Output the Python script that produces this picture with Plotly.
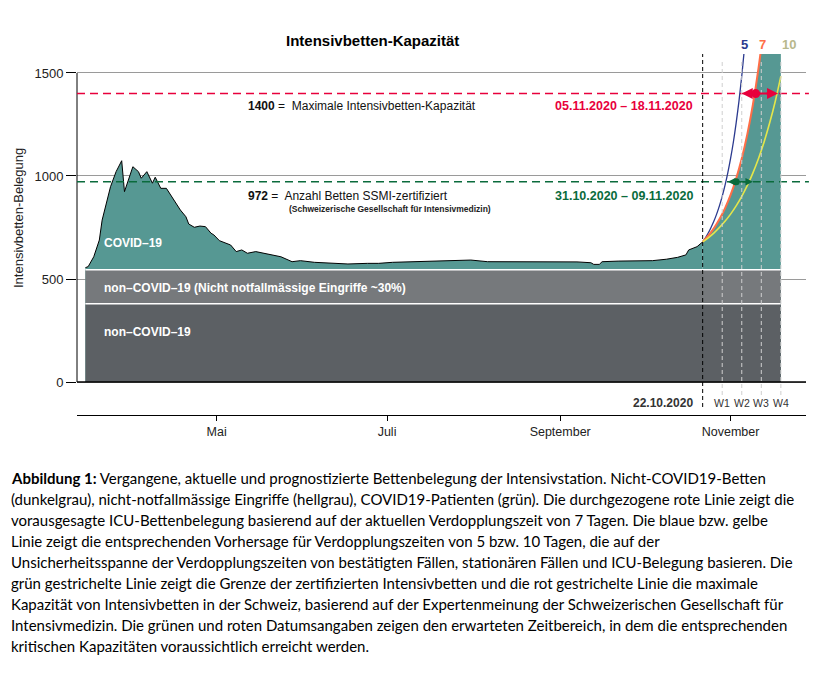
import plotly.graph_objects as go

# ---------------- data ----------------
non_covid = 380          # non-COVID-19 beds
elective = 165           # non-urgent interventions (~30%)
bars_start, bars_end = "2020-03-15", "2020-11-19"

covid_dates = [
    "2020-03-15", "2020-03-16", "2020-03-18", "2020-03-20", "2020-03-21", "2020-03-24",
    "2020-03-26", "2020-03-28", "2020-03-29", "2020-04-01", "2020-04-03", "2020-04-04",
    "2020-04-06", "2020-04-08", "2020-04-09", "2020-04-11", "2020-04-13", "2020-04-15",
    "2020-04-18", "2020-04-20", "2020-04-21", "2020-04-23", "2020-04-25", "2020-04-27",
    "2020-04-29", "2020-04-30", "2020-05-02", "2020-05-06", "2020-05-08", "2020-05-10",
    "2020-05-12", "2020-05-15", "2020-05-19", "2020-05-24", "2020-05-28", "2020-05-31",
    "2020-06-05", "2020-06-11", "2020-06-17", "2020-06-24", "2020-06-28", "2020-07-03",
    "2020-07-09", "2020-07-15", "2020-07-20", "2020-07-25", "2020-07-31", "2020-08-06",
    "2020-08-10", "2020-08-16", "2020-08-22", "2020-08-27", "2020-09-01", "2020-09-07",
    "2020-09-12", "2020-09-13", "2020-09-15", "2020-09-16", "2020-09-22", "2020-09-28",
    "2020-10-04", "2020-10-09", "2020-10-13", "2020-10-16", "2020-10-17", "2020-10-20",
    "2020-10-22",
]
covid_patients = [
    10, 15, 63, 144, 241, 403,
    476, 529, 379, 500, 476, 444,
    476, 420, 449, 395, 395, 355,
    290, 257, 222, 206, 212, 209,
    177, 169, 141, 120, 88, 96,
    80, 88, 76, 63, 39, 44,
    36, 31, 28, 31, 31, 36,
    39, 39, 44, 44, 47, 39,
    39, 39, 38, 39, 38, 38,
    34, 26, 26, 39, 42, 42,
    44, 51, 60, 72, 96, 112,
    135,
]

# projections of total ICU occupancy (doubling times 5 / 7 / 10 days)
blue_dates = ["2020-10-22", "2020-10-23", "2020-10-24", "2020-10-25", "2020-10-26", "2020-10-27",
              "2020-10-28", "2020-10-29", "2020-10-30", "2020-10-31", "2020-11-01", "2020-11-02",
              "2020-11-03", "2020-11-04", "2020-11-05", "2020-11-06", "2020-11-07"]
blue_total = [680, 700, 723, 750, 780, 815, 855, 901, 954, 1015, 1085, 1165, 1258, 1363, 1485, 1625, 1786]

red_dates = ["2020-10-22", "2020-10-24", "2020-10-26", "2020-10-28", "2020-10-30", "2020-11-01",
             "2020-11-03", "2020-11-05", "2020-11-07", "2020-11-09", "2020-11-11", "2020-11-13"]
red_total = [680, 710, 746, 790, 843, 908, 988, 1085, 1203, 1347, 1523, 1737]

yellow_dates = ["2020-10-22", "2020-10-24", "2020-10-26", "2020-10-28", "2020-10-30", "2020-11-01",
                "2020-11-03", "2020-11-05", "2020-11-07", "2020-11-09", "2020-11-11", "2020-11-13",
                "2020-11-15", "2020-11-17", "2020-11-19"]
yellow_total = [680, 700, 723, 750, 780, 815, 855, 901, 954, 1015, 1085, 1165, 1258, 1363, 1485]

max_capacity = 1400
certified = 972
red_range = ["2020-11-05", "2020-11-18"]
red_mid = "2020-11-10"
green_range = ["2020-10-31", "2020-11-09"]
green_mid = "2020-11-03"

today = "2020-10-22"
week_dates = ["2020-10-29", "2020-11-05", "2020-11-12", "2020-11-19"]
week_labels = ["W1", "W2", "W3", "W4"]

month_ticks = ["2020-05-01", "2020-07-01", "2020-09-01", "2020-11-01"]
month_labels = ["Mai", "Juli", "September", "November"]
y_ticks = [0, 500, 1000, 1500]

# ---------------- styling ----------------
TEAL = "#569893"
DARK = "#5c6064"
LIGHT = "#76797c"
RED = "#e8003c"
GREEN = "#0a6b3c"
BLUE_L = "#2b3a8f"
ORANGE_L = "#ff6e47"
YELLOW_L = "#e4e64a"
FONT = "Liberation Sans, Arial, sans-serif"

# page body adds an 8px offset; work in reference pixel coordinates
OFF = 8
W, H = 829 - OFF, 675 - OFF
PL, PT, PW, PH = 77 - OFF, 54 - OFF, 729, 361


def px(x):
    return (x - OFF - PL) / PW


def py(y):
    return (PT + PH - (y - OFF)) / PH


base = non_covid + elective
covid_total = [base + c for c in covid_patients]

fig = go.Figure()

# historical COVID area
fig.add_trace(go.Scatter(x=covid_dates, y=covid_total, mode="lines", fill="tozeroy",
                         fillcolor=TEAL, line=dict(color="black", width=1), hoverinfo="skip"))
# projected (7-day doubling) area
fig.add_trace(go.Scatter(x=red_dates + [bars_end], y=red_total + [red_total[-1]], mode="lines",
                         fill="tozeroy", fillcolor=TEAL, line=dict(width=0), hoverinfo="skip"))
# grey blocks
fig.add_trace(go.Scatter(x=[bars_start, bars_end], y=[non_covid, non_covid], mode="lines",
                         fill="tozeroy", fillcolor=DARK, line=dict(color="white", width=1.5),
                         hoverinfo="skip"))
fig.add_trace(go.Scatter(x=[bars_start, bars_end], y=[base, base], mode="lines",
                         fill="tonexty", fillcolor=LIGHT, line=dict(color="white", width=1.5),
                         hoverinfo="skip"))
# projection lines
fig.add_trace(go.Scatter(x=blue_dates, y=blue_total, mode="lines", line_shape="spline",
                         line=dict(color=BLUE_L, width=1.3), hoverinfo="skip"))
fig.add_trace(go.Scatter(x=red_dates, y=red_total, mode="lines", line_shape="spline",
                         line=dict(color=ORANGE_L, width=2), hoverinfo="skip"))
fig.add_trace(go.Scatter(x=yellow_dates, y=yellow_total, mode="lines", line_shape="spline",
                         line=dict(color=YELLOW_L, width=1.6), hoverinfo="skip"))
# crossing dots
fig.add_trace(go.Scatter(x=[red_mid], y=[max_capacity], mode="markers",
                         marker=dict(color=RED, size=9), hoverinfo="skip"))
fig.add_trace(go.Scatter(x=[green_mid], y=[certified], mode="markers",
                         marker=dict(color=GREEN, size=7), hoverinfo="skip"))

shapes = []
# axis lines
shapes.append(dict(type="line", xref="paper", yref="y", x0=0, x1=0, y0=0, y1=1500,
                   line=dict(color="black", width=1)))
shapes.append(dict(type="line", xref="paper", yref="y", x0=0, x1=1, y0=0, y1=0,
                   line=dict(color="black", width=1.5)))
# capacity lines
shapes.append(dict(type="line", xref="paper", yref="y", x0=0, x1=1.004, y0=max_capacity,
                   y1=max_capacity, line=dict(color=RED, width=1.6, dash="8px,5px")))
shapes.append(dict(type="line", xref="paper", yref="y", x0=0, x1=1.004, y0=certified,
                   y1=certified, line=dict(color=GREEN, width=1.4, dash="8px,5px")))
# week lines
for d in week_dates:
    shapes.append(dict(type="line", xref="x", yref="paper", x0=d, x1=d, y0=py(395), y1=py(61),
                       line=dict(color="#cfcfcf", width=1, dash="4px,3px")))
# today line
shapes.append(dict(type="line", xref="x", yref="paper", x0=today, x1=today, y0=py(407), y1=1,
                   line=dict(color="black", width=1, dash="4px,3px")))

ann = []
ann.append(dict(text="<b>Intensivbetten-Kapazität</b>", xref="paper", yref="paper",
                x=px(372), y=py(41), xanchor="center", yanchor="middle", showarrow=False,
                font=dict(size=15, color="black", family=FONT)))
ann.append(dict(text="Intensivbetten-Belegung", xref="paper", yref="paper", x=px(18), y=py(218),
                textangle=-90, xanchor="center", yanchor="middle", showarrow=False,
                font=dict(size=13, color="#222", family=FONT)))
ann.append(dict(text="<b>1400</b> =\u00a0 Maximale Intensivbetten-Kapazität", xref="paper",
                yref="paper", x=px(246), y=py(106), xanchor="left", yanchor="middle",
                showarrow=False, font=dict(size=12, color="#111", family=FONT)))
ann.append(dict(text="<b>05.11.2020 – 18.11.2020</b>", xref="paper", yref="paper", x=px(695),
                y=py(106), xanchor="right", yanchor="middle", showarrow=False,
                font=dict(size=12.5, color=RED, family=FONT)))
ann.append(dict(text="<b>972</b> =\u00a0 Anzahl Betten SSMI-zertifiziert", xref="paper",
                yref="paper", x=px(246), y=py(196), xanchor="left", yanchor="middle",
                showarrow=False, font=dict(size=12, color="#111", family=FONT)))
ann.append(dict(text="<b>(Schweizerische Gesellschaft für Intensivmedizin)</b>", xref="paper",
                yref="paper", x=px(287), y=py(209), xanchor="left", yanchor="middle",
                showarrow=False, font=dict(size=8.5, color="#222", family=FONT)))
ann.append(dict(text="<b>31.10.2020 – 09.11.2020</b>", xref="paper", yref="paper", x=px(695),
                y=py(196), xanchor="right", yanchor="middle", showarrow=False,
                font=dict(size=12.5, color=GREEN, family=FONT)))
# block labels
for txt, yy in [("COVID–19", 243), ("non–COVID–19 (Nicht notfallmässige Eingriffe ~30%)", 288),
                ("non–COVID–19", 332)]:
    ann.append(dict(text="<b>" + txt + "</b>", xref="paper", yref="paper", x=px(102), y=py(yy),
                    xanchor="left", yanchor="middle", showarrow=False,
                    font=dict(size=12, color="white", family=FONT)))
# doubling-time labels
for txt, xx, col in [("5", 744, BLUE_L), ("7", 762, ORANGE_L), ("10", 789, "#b8b88c")]:
    ann.append(dict(text="<b>" + txt + "</b>", xref="paper", yref="paper", x=px(xx), y=py(44),
                    xanchor="center", yanchor="middle", showarrow=False,
                    font=dict(size=13, color=col, family=FONT)))
# date / week labels
ann.append(dict(text="<b>22.10.2020</b>", xref="paper", yref="paper", x=px(695), y=py(403),
                xanchor="right", yanchor="middle", showarrow=False,
                font=dict(size=12, color="#333", family=FONT)))
for d, lab in zip(week_dates, week_labels):
    ann.append(dict(text=lab, xref="x", yref="paper", x=d, y=py(403), xanchor="center",
                    yanchor="middle", showarrow=False,
                    font=dict(size=10.5, color="#333", family=FONT)))
# range arrows
for tip in red_range:
    ann.append(dict(text="", x=tip, y=max_capacity, xref="x", yref="y", ax=red_mid,
                    ay=max_capacity, axref="x", ayref="y", showarrow=True, arrowhead=2,
                    arrowsize=1.1, arrowwidth=2, arrowcolor=RED, startstandoff=0))
for tip in green_range:
    ann.append(dict(text="", x=tip, y=certified, xref="x", yref="y", ax=green_mid,
                    ay=certified, axref="x", ayref="y", showarrow=True, arrowhead=2,
                    arrowsize=1.0, arrowwidth=1.5, arrowcolor=GREEN, startstandoff=0))

# caption
caption = [
    "<b>Abbildung 1:</b> Vergangene, aktuelle und prognostizierte Bettenbelegung der Intensivstation. Nicht-COVID19-Betten",
    "(dunkelgrau), nicht-notfallmässige Eingriffe (hellgrau), COVID19-Patienten (grün). Die durchgezogene rote Linie zeigt die",
    "vorausgesagte ICU-Bettenbelegung basierend auf der aktuellen Verdopplungszeit von 7 Tagen. Die blaue bzw. gelbe",
    "Linie zeigt die entsprechenden Vorhersage für Verdopplungszeiten von 5 bzw. 10 Tagen, die auf der",
    "Unsicherheitsspanne der Verdopplungszeiten von bestätigten Fällen, stationären Fällen und ICU-Belegung basieren. Die",
    "grün gestrichelte Linie zeigt die Grenze der zertifizierten Intensivbetten und die rot gestrichelte Linie die maximale",
    "Kapazität von Intensivbetten in der Schweiz, basierend auf der Expertenmeinung der Schweizerischen Gesellschaft für",
    "Intensivmedizin. Die grünen und roten Datumsangaben zeigen den erwarteten Zeitbereich, in dem die entsprechenden",
    "kritischen Kapazitäten voraussichtlich erreicht werden.",
]
for i, line in enumerate(caption):
    ann.append(dict(text=line, xref="paper", yref="paper", x=px(OFF + 1), y=py(478 + 21 * i),
                    xanchor="left", yanchor="middle", showarrow=False,
                    font=dict(size=15, color="black", family="Lato, Carlito, sans-serif")))

fig.update_layout(
    width=W, height=H,
    margin=dict(l=PL, r=W - PL - PW, t=PT, b=H - PT - PH),
    paper_bgcolor="white", plot_bgcolor="white", showlegend=False,
    font=dict(family=FONT, color="#222"),
    shapes=shapes, annotations=ann,
    xaxis=dict(type="date", range=["2020-03-12", "2020-11-28"], tickvals=month_ticks,
               ticktext=month_labels, ticks="outside", ticklen=5, tickcolor="black",
               showline=True, linecolor="black", linewidth=1, showgrid=False, zeroline=False,
               tickfont=dict(size=12.5, color="#222", family=FONT)),
    yaxis=dict(range=[-160, 1592], tickvals=y_ticks, ticks="outside", ticklen=10,
               tickcolor="black", showline=False, showgrid=True, gridcolor="#9a9a9a",
               gridwidth=1, zeroline=False, tickfont=dict(size=13, color="#222", family=FONT)),
)

fig.write_html("out.html")
